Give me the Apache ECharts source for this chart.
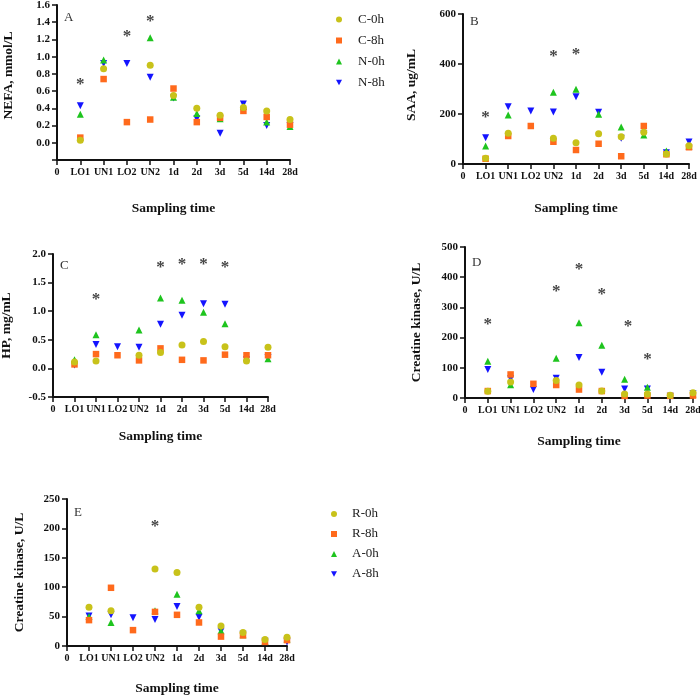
<!DOCTYPE html>
<html>
<head>
<meta charset="utf-8">
<script src="https://cdn.jsdelivr.net/npm/echarts@6/dist/echarts.min.js"></script>
<style>
html,body{margin:0;padding:0;background:#fff;}
#main{width:700px;height:696px;}
</style>
</head>
<body>
<div id="main"></div>
<script>
var xLabels = ['0','LO1','UN1','LO2','UN2','1d','2d','3d','5d','14d','28d'];
var namesCN = ['C-0h','C-8h','N-0h','N-8h'];
var namesRA = ['R-0h','R-8h','A-0h','A-8h'];

// A: NEFA
var nefaC0 = [0.03,0.86,null,0.90,0.55,0.40,0.32,0.41,0.37,0.27];
var nefaC8 = [0.06,0.74,0.24,0.27,0.63,0.24,0.29,0.37,0.30,0.21];
var nefaN0 = [0.33,0.96,null,1.22,0.53,0.34,0.28,0.42,0.24,0.19];
var nefaN8 = [0.43,0.92,0.92,0.76,0.52,0.28,0.11,0.45,0.20,0.20];
var nefaStar = [[1,0.72],[3,1.28],[4,1.45]];

// B: SAA
var saaC0 = [23,123,null,103,85,121,109,127,40,73];
var saaC8 = [21,112,152,89,56,81,31,152,39,67];
var saaN0 = [72,196,null,287,299,199,148,116,52,72];
var saaN8 = [105,229,212,208,269,207,103,120,45,88];
var saaStar = [[1,203],[4,445],[5,453]];

// C: HP
var hpC0 = [0.11,0.13,null,0.23,0.28,0.41,0.47,0.38,0.13,0.37];
var hpC8 = [0.07,0.25,0.23,0.14,0.35,0.15,0.14,0.24,0.23,0.23];
var hpN0 = [0.15,0.59,null,0.67,1.23,1.19,0.98,0.78,0.19,0.17];
var hpN8 = [0.06,0.42,0.38,0.37,0.77,0.93,1.13,1.12,0.15,0.19];
var hpStar = [[2,1.28],[5,1.84],[6,1.88],[7,1.88],[8,1.84]];

// D: creatine kinase (C/N)
var ckC0 = [22,53,null,58,43,23,13,13,9,17];
var ckC8 = [23,78,47,43,28,23,7,8,7,8];
var ckN0 = [122,44,null,132,249,175,62,36,8,13];
var ckN8 = [94,64,28,65,134,85,30,30,6,14];
var ckStar = [[1,257],[4,364],[5,440],[6,354],[7.15,250],[8,140]];

// E: creatine kinase (R/A)
var ck2R0 = [66,60,null,131,125,66,34,23,11,15];
var ck2R8 = [44,99,27,58,53,40,16,18,7,10];
var ck2A0 = [50,40,null,60,88,60,26,19,8,12];
var ck2A8 = [51,53,48,45,67,49,25,20,8,7];
var ck2Star = [[4,210]];

var colors = ['#c8c21a','#ff6a1c','#1ec41e','#1414ff'];
var symbols = ['circle','rect','triangle','path://M0,0 L10,0 L5,9 Z'];
var font = 'Liberation Serif';

var panels = [
	{letter:'A', yName:'NEFA, mmol/L', min:-0.2, max:1.6, step:0.2, dec:1, hideMin:true,
	 left:57, top:5, width:233, height:155, nameGapX:42, nameGapY:41, namePad:[0,0,0,14],
	 names:namesCN, vals:[nefaC0,nefaC8,nefaN0,nefaN8], star:nefaStar},
	{letter:'B', yName:'SAA, ug/mL', min:0, max:600, step:200, dec:0,
	 left:463, top:14, width:226, height:150, nameGapX:38, nameGapY:44, namePad:[0,0,0,8],
	 names:namesCN, vals:[saaC0,saaC8,saaN0,saaN8], star:saaStar},
	{letter:'C', yName:'HP, mg/mL', min:-0.5, max:2.0, step:0.5, dec:1,
	 left:53, top:254, width:215, height:143, nameGapX:33, nameGapY:39, namePad:0,
	 names:namesCN, vals:[hpC0,hpC8,hpN0,hpN8], star:hpStar},
	{letter:'D', yName:'Creatine kinase, U/L', min:0, max:500, step:100, dec:0,
	 left:465, top:247, width:228, height:151, nameGapX:37, nameGapY:41, namePad:0,
	 names:namesCN, vals:[ckC0,ckC8,ckN0,ckN8], star:ckStar},
	{letter:'E', yName:'Creatine kinase, U/L', min:0, max:250, step:50, dec:0,
	 left:67, top:499, width:220, height:147, nameGapX:36, nameGapY:40, namePad:0,
	 names:namesRA, vals:[ck2R0,ck2R8,ck2A0,ck2A8], star:ck2Star}
];

var grids = [], xAxes = [], yAxes = [], series = [], titles = [];

var $each = function (arr, fn) { for (var i = 0; i < arr.length; i++) fn(i, arr[i]); };

$each(panels, function (p, pan) {
	grids.push({left:pan.left, top:pan.top, width:pan.width, height:pan.height, containLabel:false, outerBoundsMode:'none'});
	titles.push({
		text: pan.letter,
		left: pan.left + 7,
		top: pan.top + (p == 0 ? 6 : (p == 1 ? 1 : (p == 2 ? 5 : (p == 3 ? 9 : 7)))),
		padding: 0,
		textStyle: {fontFamily:font, fontWeight:'normal', fontSize:13, color:'#333'}
	});
	xAxes.push({
		gridIndex: p,
		type: 'value',
		min: 0, max: 10, interval: 1,
		name: 'Sampling time',
		nameLocation: 'middle',
		nameGap: pan.nameGapX,
		nameTextStyle: {fontFamily:font, fontWeight:'bold', fontSize:13.5, color:'#111'},
		axisLine: {onZero:false, lineStyle:{color:'#111', width:2}},
		axisTick: {length:5, lineStyle:{color:'#111', width:1.5}},
		axisLabel: {
			fontFamily:font, fontWeight:'bold', fontSize:10, color:'#111', margin:7,
			formatter: function (v) { return xLabels[Math.round(v)]; }
		},
		splitLine: {show:false}
	});
	yAxes.push({
		gridIndex: p,
		type: 'value',
		min: pan.min, max: pan.max, interval: pan.step,
		name: pan.yName,
		nameLocation: 'middle',
		nameGap: pan.nameGapY,
		nameTextStyle: {fontFamily:font, fontWeight:'bold', fontSize:13.5, color:'#111', padding:pan.namePad},
		axisLine: {show:true, onZero:false, lineStyle:{color:'#111', width:2}},
		axisTick: {show:true, length:5, lineStyle:{color:'#111', width:1.5}},
		axisLabel: {
			fontFamily:font, fontWeight:'bold', fontSize:11, color:'#111', margin:7,
			formatter: function (v) {
				if (pan.hideMin && v < pan.min + pan.step / 2) return '';
				return v.toFixed(pan.dec);
			}
		},
		splitLine: {show:false}
	});
	// draw N-8h first so C-0h sits on top, like the original
	for (var k = 3; k >= 0; k--) {
		var pts = [];
		$each(pan.vals[k], function (i, v) { if (v !== null) pts.push([i + 1, v]); });
		series.push({
			name: pan.names[k],
			type: 'scatter',
			xAxisIndex: p, yAxisIndex: p,
			symbol: symbols[k],
			symbolSize: k == 1 ? 6.5 : 7,
			itemStyle: {color: colors[k], opacity: 1},
			data: pts
		});
	}
	series.push({
		type: 'scatter',
		xAxisIndex: p, yAxisIndex: p,
		symbolSize: 0,
		silent: true,
		label: {show:true, position:'inside', formatter:'*', fontFamily:font, fontWeight:'bold', fontSize:17, color:'#111', offset:[0,4]},
		data: pan.star
	});
});

var dom = document.getElementById('main');
var myChart = echarts.init(dom, null, {renderer:'canvas'});
var option = {
	backgroundColor: '#fff',
	animation: false,
	textStyle: {fontFamily: font},
	title: titles,
	legend: [
		{
			orient: 'vertical', left: 331, top: 4, data: namesCN,
			itemWidth: 6, itemHeight: 6, itemGap: 0, selectedMode: false,
			textStyle: {fontFamily:font, fontSize:13, color:'#222', lineHeight:21, padding:[0,0,0,11]}
		},
		{
			orient: 'vertical', left: 326, top: 499, data: namesRA,
			itemWidth: 6, itemHeight: 6, itemGap: 0, selectedMode: false,
			textStyle: {fontFamily:font, fontSize:13, color:'#222', lineHeight:20, padding:[0,0,0,10]}
		}
	],
	grid: grids,
	xAxis: xAxes,
	yAxis: yAxes,
	series: series
};
myChart.setOption(option, true);
</script>
</body>
</html>
